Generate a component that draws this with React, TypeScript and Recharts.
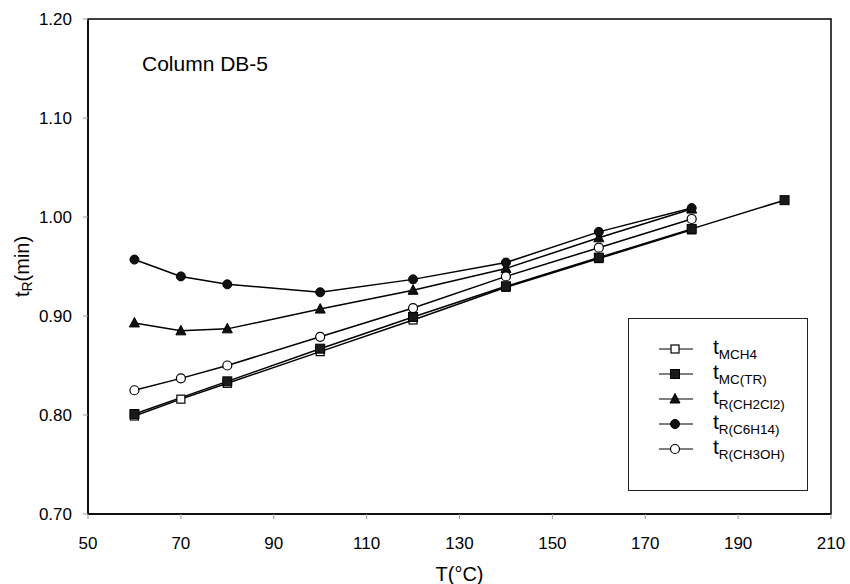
import { LineChart, Line, XAxis, YAxis, Legend, ReferenceArea } from "recharts";

const temps = [60, 70, 80, 100, 120, 140, 160, 180, 200];
const tMCH4 = [0.799, 0.816, 0.832, 0.864, 0.896, 0.929, 0.958, 0.987, null];
const tMCTR = [0.801, null, 0.834, 0.867, 0.899, 0.930, 0.959, 0.988, 1.017];
const tCH2Cl2 = [0.893, 0.885, 0.887, 0.907, 0.926, 0.948, 0.979, 1.008, null];
const tC6H14 = [0.957, 0.940, 0.932, 0.924, 0.937, 0.954, 0.985, 1.009, null];
const tCH3OH = [0.825, 0.837, 0.850, 0.879, 0.908, 0.940, 0.969, 0.998, null];

const xTicks = [50, 70, 90, 110, 130, 150, 170, 190, 210];
const yTicks = [0.7, 0.8, 0.9, 1.0, 1.1, 1.2];

const FONT = "'Liberation Sans', Arial, sans-serif";

const data = temps.map((t, i) => ({
  t,
  mch4: tMCH4[i],
  mctr: tMCTR[i],
  ch2cl2: tCH2Cl2[i],
  c6h14: tC6H14[i],
  ch3oh: tCH3OH[i],
}));

// marker shapes, shared by plot and legend
function Marker({ kind, cx, cy }: { kind: string; cx: number; cy: number }) {
  if (kind === "openSquare")
    return <rect x={cx - 4} y={cy - 4} width={8} height={8} fill="#fff" stroke="#000" strokeWidth={1.2} />;
  if (kind === "filledSquare")
    return <rect x={cx - 4.5} y={cy - 4.5} width={9} height={9} fill="#1a1a1a" stroke="#000" strokeWidth={1} />;
  if (kind === "triangle")
    return <polygon points={`${cx},${cy - 5.5} ${cx + 5},${cy + 4} ${cx - 5},${cy + 4}`} fill="#111" stroke="#000" strokeWidth={1} />;
  if (kind === "filledCircle") return <circle cx={cx} cy={cy} r={4.5} fill="#111" stroke="#000" strokeWidth={1} />;
  return <circle cx={cx} cy={cy} r={4.5} fill="#fff" stroke="#000" strokeWidth={1.2} />;
}

const makeDot = (kind: string) => (props: any) => {
  const { cx, cy, value, index } = props;
  if (value == null || cx == null || cy == null) return <g key={`${kind}-${index}`} />;
  return <Marker key={`${kind}-${index}`} kind={kind} cx={cx} cy={cy} />;
};

const series = [
  { key: "mch4", kind: "openSquare", main: "t", sub: "MCH4" },
  { key: "mctr", kind: "filledSquare", main: "t", sub: "MC(TR)" },
  { key: "ch2cl2", kind: "triangle", main: "t", sub: "R(CH2Cl2)" },
  { key: "c6h14", kind: "filledCircle", main: "t", sub: "R(C6H14)" },
  { key: "ch3oh", kind: "openCircle", main: "t", sub: "R(CH3OH)" },
];

function LegendBox() {
  return (
    <div
      style={{
        width: 180,
        height: 173,
        border: "1px solid #222",
        background: "#fff",
        boxSizing: "border-box",
        paddingTop: 17,
        fontFamily: FONT,
      }}
    >
      {series.map((s) => (
        <div key={s.key} style={{ display: "flex", alignItems: "center", height: 25 }}>
          <svg width={84} height={20} style={{ flexShrink: 0 }}>
            <line x1={30} y1={10} x2={64} y2={10} stroke="#000" strokeWidth={1.2} />
            <Marker kind={s.kind} cx={46} cy={10} />
          </svg>
          <span style={{ fontSize: 21, color: "#000", lineHeight: "20px" }}>
            {s.main}
            <span style={{ fontSize: 13.5, position: "relative", top: 5 }}>{s.sub}</span>
          </span>
        </div>
      ))}
    </div>
  );
}

const YLabel = (props: any) => {
  const { viewBox } = props;
  const cx = viewBox.x + 22;
  const cy = viewBox.y + viewBox.height / 2;
  return (
    <text x={cx} y={cy} transform={`rotate(-90 ${cx} ${cy})`} textAnchor="middle" dominantBaseline="central" fontFamily={FONT} fontSize={20} fill="#000">
      t<tspan fontSize={14} dy={5}>R</tspan>
      <tspan dy={-5}>(min)</tspan>
    </text>
  );
};

const Title = (props: any) => {
  const { viewBox } = props;
  return (
    <text x={viewBox.x + 54} y={viewBox.y + 52} fontFamily={FONT} fontSize={21} fill="#000">
      Column DB-5
    </text>
  );
};

export default function App() {
  return (
    <div style={{ position: "absolute", left: 0, top: 0, width: 850, height: 584, background: "#fff" }}>
      <LineChart width={850} height={584} data={data} margin={{ top: 19, right: 19, left: 0, bottom: 0 }}>
        <XAxis
          dataKey="t"
          type="number"
          domain={[50, 210]}
          ticks={xTicks}
          height={70}
          tickSize={5}
          tickMargin={18}
          axisLine={{ stroke: "#000", strokeWidth: 1.5 }}
          tickLine={{ stroke: "#999" }}
          tick={{ fill: "#000", fontSize: 17, fontFamily: FONT }}
          label={{ value: "T(°C)", position: "insideBottom", offset: 3, fill: "#000", fontSize: 20, fontFamily: FONT }}
        />
        <YAxis
          type="number"
          domain={[0.7, 1.2]}
          ticks={yTicks}
          width={88}
          tickSize={5}
          tickMargin={11}
          tickFormatter={(v: number) => v.toFixed(2)}
          axisLine={{ stroke: "#000", strokeWidth: 1.5 }}
          tickLine={{ stroke: "#999" }}
          tick={{ fill: "#000", fontSize: 17, fontFamily: FONT }}
          label={<YLabel />}
        />
        <ReferenceArea x1={50} x2={210} y1={0.7} y2={1.2} fill="none" stroke="#000" strokeWidth={1.5} label={<Title />} />
        {series.map((s) => (
          <Line
            key={s.key}
            type="linear"
            dataKey={s.key}
            stroke="#000"
            strokeWidth={1.5}
            connectNulls
            dot={makeDot(s.kind)}
            activeDot={false}
            isAnimationActive={false}
            legendType="none"
          />
        ))}
        <Legend
          layout="vertical"
          align="center"
          verticalAlign="middle"
          content={<LegendBox />}
          wrapperStyle={{ left: 628, top: 318, width: 180, height: 173 }}
        />
      </LineChart>
    </div>
  );
}
